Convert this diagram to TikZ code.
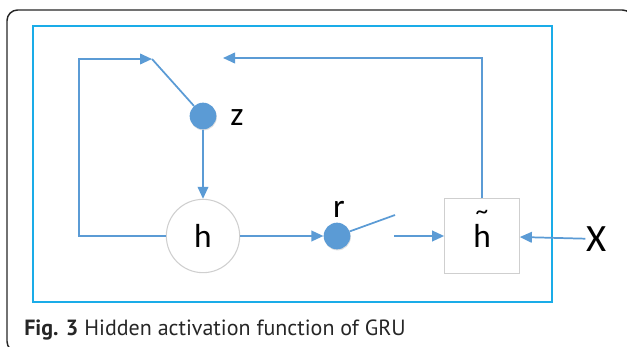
\documentclass[tikz,border=0pt]{standalone}
\usepackage{fontspec}
\setmainfont{Carlito}
\newfontfamily\capfont{PT Sans}
\usetikzlibrary{arrows.meta, positioning, shadows}

\definecolor{wireblue}{HTML}{5B9BD5}
\definecolor{framecyan}{HTML}{1AACE8}
\definecolor{cellgrey}{HTML}{CFCFCF}

% h with a tilde set well above it
\newcommand{\htilde}{\setbox0\hbox{h}\rlap{\hbox to\wd0{\hss\smash{\raisebox{21pt}{\fontsize{19}{19}\selectfont\char"7E}}\hss}}h}

\tikzset{
    wire/.style={draw=wireblue, line width=1.3pt},
    arr/.style={wire, -{Triangle[length=9pt,width=8pt]}},
    gate/.style={circle, fill=wireblue, minimum size=20pt, inner sep=0pt,
        drop shadow={opacity=0.25, shadow xshift=0.4pt, shadow yshift=-0.8pt}},
    cell/.style={circle, draw=cellgrey, line width=0.8pt, minimum size=55pt, inner sep=0pt, font=\fontsize{25}{25}\selectfont},
    candbox/.style={rectangle, draw=cellgrey, line width=0.8pt, minimum size=56pt, inner sep=0pt, font=\fontsize{25}{25}\selectfont},
    lbl/.style={inner sep=1pt, font=\fontsize{25}{25}\selectfont},
}

\begin{document}
\begin{tikzpicture}[x=0.75pt, y=-0.75pt]
    \useasboundingbox (0,0) rectangle (627,346);
    \clip (0,0) rectangle (627,346);
    % outer frame and cyan box
    \draw[black!85, line width=1.1pt, rounded corners=8pt] (7,10) rectangle (633,352);
    \draw[framecyan, line width=1.6pt] (33,26) rectangle (552,302);

    % gates and cells
    \node[gate] (z) at (203,116) {};
    \node[lbl] (zlab) at (237,118) {z};
    \node[cell] (h) at (203,236) {h};
    \node[gate] (r) at (337,236) {};
    \node[lbl] (rlab) at (339,209) {r};
    \node[candbox] (ht) at (482,236) {\htilde};
    \node[lbl, font=\fontsize{29}{29}\selectfont] (x) at (597,239) {X};

    % loose ends of the switches
    \coordinate (loopbl) at (79,236);
    \coordinate (zin) at (152,59);
    \coordinate (fbend) at (223,58);
    \coordinate (ropen) at (395,215);
    \coordinate (rout) at (394,236);

    \draw[arr] (h) -- (loopbl) |- (zin);
    \draw[wire] (zin) -- (z);
    \draw[arr] (z) -- (h);
    \draw[arr] (h) -- (r);
    \draw[wire] (r) -- (ropen);
    \draw[arr] (rout) -- (ht);
    \draw[arr] (ht) |- (fbend);
    \draw[arr] (x) -- (ht);

    % caption
    \node[anchor=base west, inner sep=0pt, font=\capfont\fontsize{16.5}{16.5}\selectfont, text=black!85] (cap) at (24,335)
        {\textbf{Fig. 3} Hidden activation function of GRU};
\end{tikzpicture}
\end{document}
